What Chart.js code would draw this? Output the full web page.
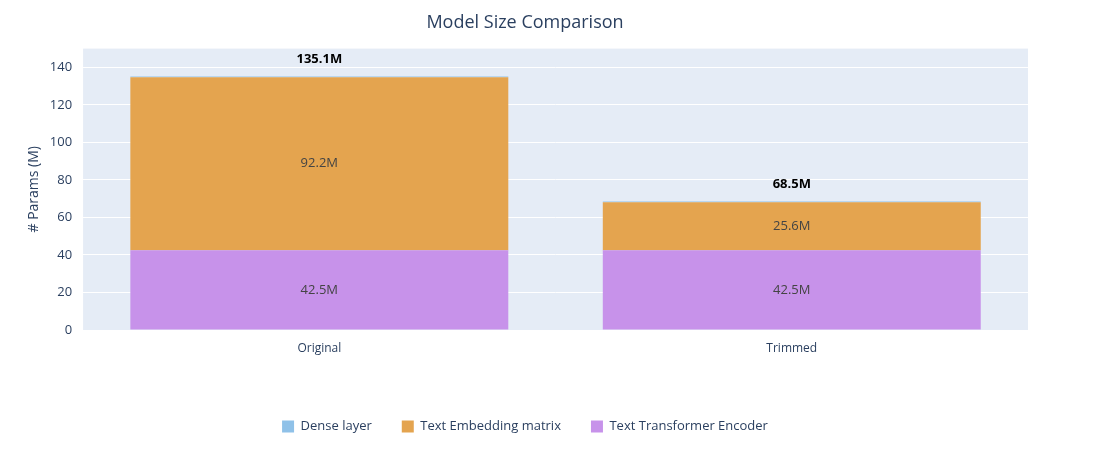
<!DOCTYPE html>
<html><head><meta charset="utf-8">
<script src="https://cdn.jsdelivr.net/npm/chart.js@4"></script>
<style>body{margin:0;background:#fff}#wrap{width:1108px;height:450px}</style>
</head><body><div id="wrap"><canvas id="c"></canvas></div>
<script>
const categories = ["Original", "Trimmed"];
const encoder   = [42.5, 42.5];
const embedding = [92.2, 25.6];
const dense     = [0.4, 0.4];
const totals    = [135.1, 68.5];
const yTicks    = [0, 20, 40, 60, 80, 100, 120, 140];

// ── Labels inside segments and totals on top ──
const labelPlugin = {
  id: "labels",
  afterDatasetsDraw(chart) {
    const ctx = chart.ctx;
    ctx.save();
    ctx.textAlign = "center"; ctx.textBaseline = "middle";
    [0, 1].forEach(di => {
      chart.getDatasetMeta(di).data.forEach((bar, i) => {
        const v = chart.data.datasets[di].data[i];
        ctx.fillStyle = "#444"; ctx.font = "13px 'Open Sans', sans-serif";
        ctx.fillText(v.toFixed(1) + "M", bar.x, (bar.y + bar.base) / 2);
      });
    });
    chart.getDatasetMeta(2).data.forEach((bar, i) => {
      ctx.fillStyle = "#000"; ctx.font = "bold 13px 'Open Sans', sans-serif";
      ctx.fillText(totals[i].toFixed(1) + "M", bar.x, chart.scales.y.getPixelForValue(totals[i]) - 17);
    });
    ctx.restore();
  }
};
const bgPlugin = {
  id: "bg",
  beforeDraw(chart) {
    const a = chart.chartArea, ctx = chart.ctx;
    ctx.save(); ctx.fillStyle = "#e5ecf6";
    ctx.fillRect(a.left, a.top, a.right - a.left, a.bottom - a.top);
    ctx.restore();
  }
};

new Chart(document.getElementById("c"), {
  type: "bar",
  data: {
    labels: categories,
    datasets: [
      { label: "Text Transformer Encoder", data: encoder, backgroundColor: "#c792ea" },
      { label: "Text Embedding matrix", data: embedding, backgroundColor: "#e4a44f" },
      { label: "Dense layer", data: dense, backgroundColor: "#8fc1e8" },
    ],
  },
  options: {
    responsive: true, maintainAspectRatio: false, animation: false,
    layout: { padding: { left: 22, right: 80, top: 6, bottom: 7 } },
    datasets: { bar: { categoryPercentage: 0.8, barPercentage: 1, borderWidth: 0 } },
    plugins: {
      title: { display: true, text: "Model Size Comparison", color: "#2a3f5f",
               font: { size: 18, family: "'Open Sans', sans-serif", weight: "normal" },
               padding: { top: 6, bottom: 15 } },
      legend: { position: "bottom", reverse: true,
                labels: { color: "#2a3f5f", boxWidth: 12, boxHeight: 12, padding: 30,
                          font: { size: 13, family: "'Open Sans', sans-serif" } } },
      tooltip: { enabled: false },
    },
    scales: {
      x: { stacked: true, grid: { display: false }, border: { display: false },
           ticks: { color: "#2a3f5f", font: { size: 12, family: "'Open Sans', sans-serif" } },
           afterFit: s => { s.height = 60; } },
      y: { stacked: true, min: 0, max: 150, border: { display: false },
           afterBuildTicks: s => { s.ticks = yTicks.map(v => ({ value: v })); },
           grid: { color: "#fff", lineWidth: 1 },
           ticks: { color: "#2a3f5f", font: { size: 13, family: "'Open Sans', sans-serif" } },
           title: { display: true, text: "# Params (M)", color: "#2a3f5f",
                    font: { size: 14, family: "'Open Sans', sans-serif" } } },
    },
  },
  plugins: [bgPlugin, labelPlugin],
});
</script></body></html>
